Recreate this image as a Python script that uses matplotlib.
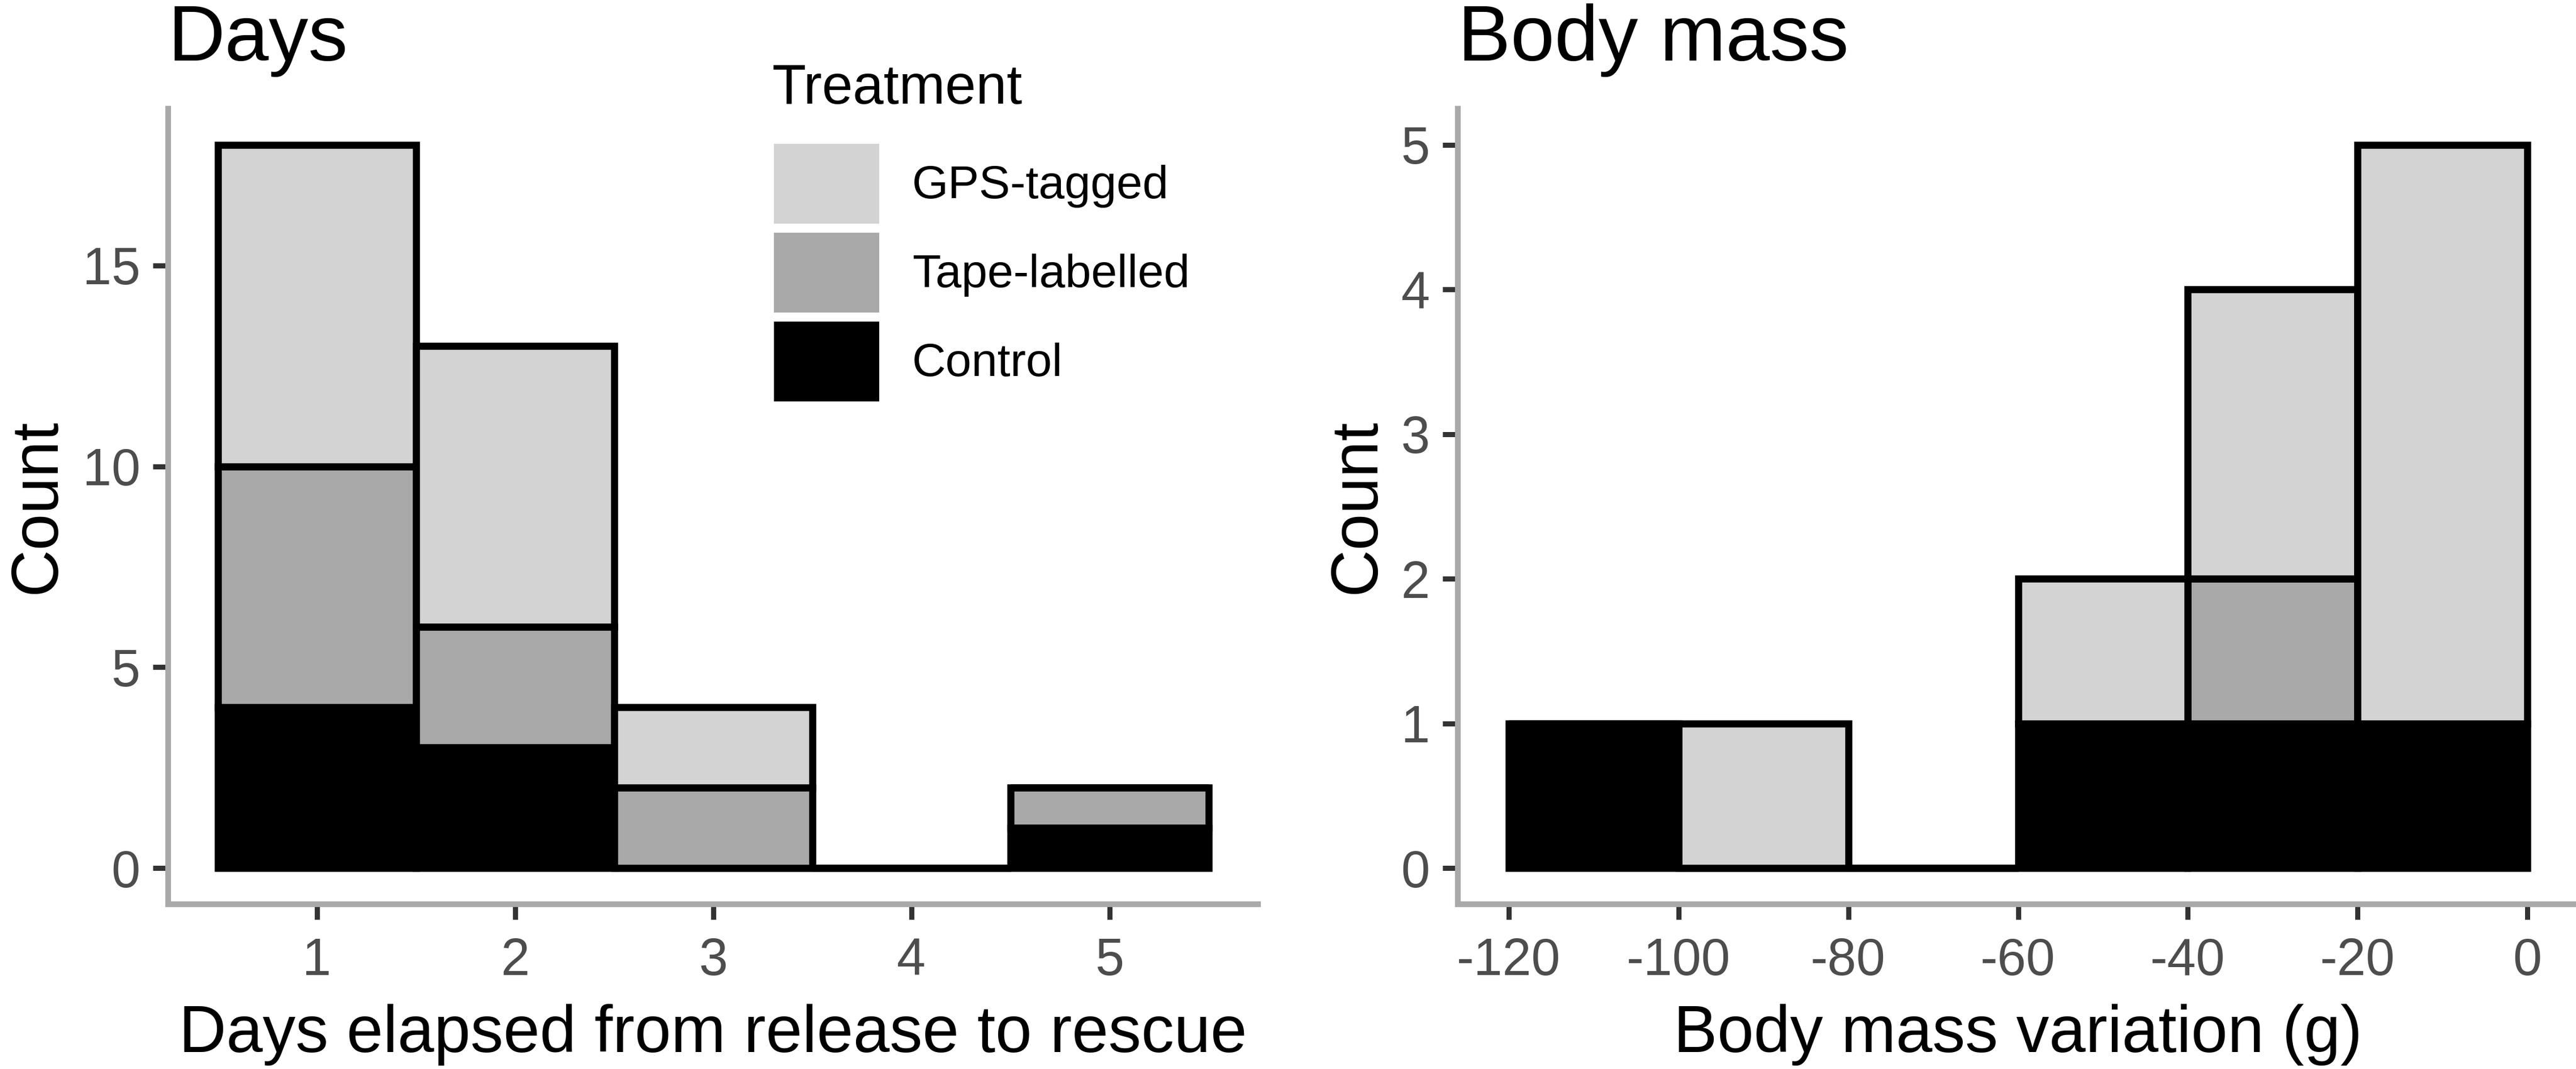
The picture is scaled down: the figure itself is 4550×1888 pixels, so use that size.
import matplotlib.pyplot as plt
from matplotlib.patches import Patch

plt.rcParams['font.family'] = ['Liberation Sans', 'DejaVu Sans']
plt.rcParams['axes.unicode_minus'] = False

# figure size in pixels
W, H = 4550, 1888
DPI = 300

# days elapsed histogram (stacked counts per day)
days = [1, 2, 3, 4, 5]
days_control = [4, 3, 0, 0, 1]
days_tape = [6, 3, 2, 0, 1]
days_gps = [8, 7, 2, 0, 0]

# body mass variation histogram (bins of 20 g, left edges)
mass_bins = [-120, -100, -80, -60, -40, -20]
mass_control = [1, 0, 0, 1, 1, 1]
mass_tape = [0, 0, 0, 0, 1, 0]
mass_gps = [0, 1, 0, 1, 2, 4]

treatments = ['GPS-tagged', 'Tape-labelled', 'Control']
colors = {'GPS-tagged': '#D3D3D3', 'Tape-labelled': '#A9A9A9', 'Control': '#000000'}

axis_grey = '#A9A9A9'
edge_lw = 3.0


def stacked(ax, x, width, control, tape, gps):
    bottom = [0] * len(x)
    for name, vals in [('Control', control), ('Tape-labelled', tape), ('GPS-tagged', gps)]:
        ax.bar(x, vals, width=width, bottom=bottom, align='center',
               color=colors[name], edgecolor='black', linewidth=edge_lw, zorder=2)
        bottom = [b + v for b, v in zip(bottom, vals)]


def style(ax):
    for s in ['top', 'right']:
        ax.spines[s].set_visible(False)
    for s in ['left', 'bottom']:
        ax.spines[s].set_color(axis_grey)
        ax.spines[s].set_linewidth(2.4)
    ax.tick_params(axis='both', colors='#333333', width=2.16, length=6.5,
                   labelsize=22, labelcolor='#4D4D4D')
    ax.tick_params(axis='x', pad=7.4)
    ax.tick_params(axis='y', pad=5.3)


fig = plt.figure(figsize=(W / DPI, H / DPI), dpi=DPI)
ax1 = fig.add_axes([297 / W, 1 - 1597 / H, (2222 - 297) / W, (1597 - 192) / H])
ax2 = fig.add_axes([2575 / W, 1 - 1597 / H, (4554 - 2575) / W, (1597 - 192) / H])

# left panel: days
stacked(ax1, days, 1.0, days_control, days_tape, days_gps)
ax1.set_xlim(0.25, 5.75)
ax1.set_ylim(-0.9, 18.9)
ax1.set_xticks(days)
ax1.set_yticks([0, 5, 10, 15])
style(ax1)
ax1.set_xlabel('Days elapsed from release to rescue', fontsize=27.8, va='baseline')
ax1.xaxis.set_label_coords(0.5, (H - 1858 - 291) / 1405)
ax1.set_ylabel('Count', fontsize=27.8)
ax1.yaxis.set_label_coords(-0.0914, 0.5)

# right panel: body mass
mass_centers = [b + 10 for b in mass_bins]
stacked(ax2, mass_centers, 20, mass_control, mass_tape, mass_gps)
ax2.set_xlim(-126, 6)
ax2.set_ylim(-0.25, 5.25)
ax2.set_xticks([-120, -100, -80, -60, -40, -20, 0])
ax2.set_yticks([0, 1, 2, 3, 4, 5])
style(ax2)
ax2.set_xlabel('Body mass variation (g)', fontsize=27.8, va='baseline')
ax2.xaxis.set_label_coords(0.5, (H - 1858 - 291) / 1405)
ax2.set_ylabel('Count', fontsize=27.8)
ax2.yaxis.set_label_coords(-0.0622, 0.5)

# panel titles
fig.text(297 / W, 1 - 107 / H, 'Days', fontsize=33.5, ha='left', va='baseline')
fig.text(2575 / W, 1 - 107 / H, 'Body mass', fontsize=33.5, ha='left', va='baseline')

# legend
handles = [Patch(facecolor=colors[t], edgecolor='none') for t in treatments]
leg_fs = 19.8
fs_px = leg_fs * DPI / 72
fig.legend(handles, treatments, loc='upper left',
           bbox_to_anchor=(1367 / W, 1 - 254 / H), bbox_transform=fig.transFigure,
           frameon=False, fontsize=leg_fs, borderpad=0, borderaxespad=0,
           handlelength=186 / fs_px, handleheight=186 / fs_px,
           labelspacing=16 / fs_px, handletextpad=58 / fs_px)
fig.text(1364 / W, 1 - 183 / H, 'Treatment', fontsize=23.5, ha='left', va='baseline')

fig.savefig('out.png', dpi=DPI)
